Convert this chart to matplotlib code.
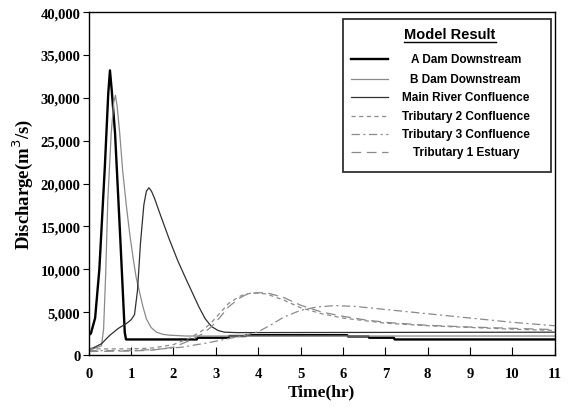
import matplotlib
matplotlib.use('Agg')
import matplotlib.pyplot as plt
from matplotlib.lines import Line2D
from matplotlib.patches import Rectangle
from matplotlib.ticker import StrMethodFormatter

plt.rcParams['lines.scale_dashes'] = False

# A Dam Downstream
t_a = [0, 0.05, 0.15, 0.25, 0.38, 0.46, 0.5, 0.54, 0.62, 0.74, 0.85, 0.88, 2.55, 2.57, 3.3, 3.32,
       3.7, 3.72, 6.1, 6.12, 6.6, 6.62, 7.2, 7.22, 11]
q_a = [2300, 2500, 4300, 10000, 22000, 30500, 33200, 31000, 25900, 14000, 2600, 1800, 1800, 2000, 2000, 2200,
       2200, 2300, 2300, 2150, 2150, 2000, 2000, 1800, 1800]

# B Dam Downstream
t_b = [0, 0.1, 0.3, 0.35, 0.4, 0.45, 0.53, 0.59, 0.63, 0.67, 0.73, 0.8, 0.89, 0.97, 1.05, 1.12,
       1.2, 1.28, 1.36, 1.47, 1.6, 1.75, 1.9, 2.3, 11]
q_b = [600, 700, 1050, 3000, 9500, 18100, 25900, 29500, 30300, 29000, 25900, 21500, 17300, 14000, 11200, 9000,
       7300, 5600, 4200, 3200, 2650, 2400, 2300, 2200, 2200]

# Main River Confluence
t_m = [0, 0.1, 0.3, 0.5, 0.7, 0.9, 1.0, 1.08, 1.15, 1.22, 1.3, 1.36, 1.42, 1.48, 1.55, 1.7, 1.9,
       2.1, 2.3, 2.45, 2.6, 2.75, 2.9, 3.05, 3.2, 3.5, 11]
q_m = [700, 800, 1300, 2300, 3100, 3700, 4100, 4700, 7500, 13000, 17500, 19100, 19500, 19100, 18300, 16200, 13500,
       11000, 8800, 7200, 5600, 4200, 3300, 2850, 2650, 2600, 2650]

# Tributary 2 Confluence / Tributary 1 Estuary
t_t = [0, 1, 1.5, 2, 2.4, 2.7, 2.9, 3.1, 3.3, 3.55, 3.7, 3.85, 4.0, 4.2, 4.6, 5, 5.5, 6, 6.5, 7, 8, 9, 10, 11]
q_t2 = [700, 700, 800, 1200, 2000, 2900, 3800, 4900, 6000, 6800, 7100, 7200, 7200, 7100, 6400, 5500, 4800, 4300,
        4000, 3700, 3400, 3200, 3000, 2850]
q_t1 = [400, 450, 550, 900, 1700, 2500, 3300, 4400, 5600, 6600, 7000, 7200, 7250, 7250, 6700, 5800, 5000, 4500,
        4100, 3800, 3450, 3250, 3100, 2950]

# Tributary 3 Confluence
t_3 = [0, 1, 1.6, 2.2, 2.8, 3.3, 3.7, 4.0, 4.3, 4.6, 5.0, 5.4, 5.8, 6.3, 7, 8, 9, 10, 11]
q_t3 = [500, 500, 650, 900, 1400, 1900, 2300, 2700, 3500, 4400, 5200, 5600, 5750, 5650, 5300, 4800,
        4300, 3800, 3400]

labels = ['A Dam Downstream', 'B Dam Downstream', 'Main River Confluence',
          'Tributary 2 Confluence', 'Tributary 3 Confluence', 'Tributary 1 Estuary']

styles = [
    dict(color='black', lw=1.7),
    dict(color='#8a8a8a', lw=0.9),
    dict(color='#303030', lw=0.9),
    dict(color='#8a8a8a', lw=0.9, dashes=(3, 2.5)),
    dict(color='#8a8a8a', lw=0.9, dashes=(6, 2.5, 1.5, 2.5)),
    dict(color='#8a8a8a', lw=0.9, dashes=(7, 4)),
]

fig = plt.figure(figsize=(5.69, 4.10), dpi=100)
ax = fig.add_axes([0.156, 0.132, 0.819, 0.836])

series = [(t_a, q_a), (t_b, q_b), (t_m, q_m), (t_t, q_t2), (t_3, q_t3), (t_t, q_t1)]
for (t, q), st in zip(series, styles):
    ax.plot(t, q, **st)

ax.set_xlim(0, 11)
ax.set_ylim(0, 40000)
ax.set_xticks(range(0, 12))
ax.set_yticks(range(0, 40001, 5000))
ax.yaxis.set_major_formatter(StrMethodFormatter('{x:,.0f}'))
ax.tick_params(axis='x', direction='in', length=6, pad=9, width=0.8)
ax.tick_params(axis='y', direction='out', length=4, pad=2, width=0.8)
for lab in ax.get_xticklabels() + ax.get_yticklabels():
    lab.set_family('Liberation Serif')
    lab.set_weight('bold')
    lab.set_fontsize(10.5)
for s in ax.spines.values():
    s.set_linewidth(1.0)

plt.rcParams['mathtext.fontset'] = 'custom'
plt.rcParams['mathtext.rm'] = 'Liberation Serif:bold'
ax.set_xlabel('Time(hr)', family='Liberation Serif', weight='bold', fontsize=12.5, labelpad=2)
ax.set_ylabel('Discharge(m$^3$/s)', family='Liberation Serif', weight='bold', fontsize=13.5, labelpad=4)

# legend box drawn by hand (centered labels)
ax.add_patch(Rectangle((0.545, 0.534), 0.446, 0.446, transform=ax.transAxes,
                       fill=False, edgecolor='#303030', lw=1.3, zorder=5))
title = ax.text(0.775, 0.936, 'Model Result', transform=ax.transAxes, ha='center', va='center',
                family='Liberation Sans', weight='bold', fontsize=10.5, zorder=6)
rows = [0.863, 0.805, 0.752, 0.697, 0.644, 0.592]
for y, lab, st in zip(rows, labels, styles):
    ax.add_line(Line2D([0.562, 0.642], [y, y], transform=ax.transAxes, **st))
    ax.text(0.809, y, lab, transform=ax.transAxes, ha='center', va='center',
            family='Liberation Sans', weight='bold', fontsize=8.5, zorder=6)

fig.canvas.draw()
bb = title.get_window_extent().transformed(ax.transAxes.inverted())
ax.add_line(Line2D([bb.x0, bb.x1], [bb.y0 - 0.004, bb.y0 - 0.004], transform=ax.transAxes,
                   color='black', lw=1.0))

fig.savefig('out.png', dpi=100)
